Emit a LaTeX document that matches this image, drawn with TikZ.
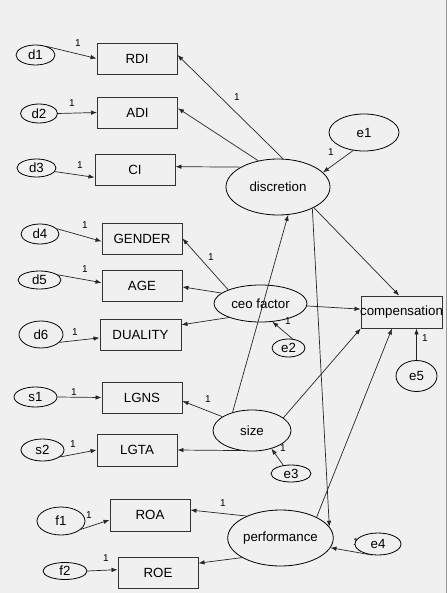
\documentclass[tikz,border=0pt]{standalone}
\usepackage{fontspec}
\setmainfont{Liberation Sans}
\usetikzlibrary{shapes.geometric,arrows.meta}
\definecolor{bgc}{HTML}{F0F0F0}
\newcommand\mainfnt{\fontsize{13.3}{15}\selectfont}
\newcommand\onefnt{\fontsize{10}{11}\selectfont}
\tikzset{
  box/.style={draw=black!80, line width=0.95pt, fill=bgc, rectangle, minimum width=80pt, minimum height=31pt, inner sep=0pt, font=\mainfnt},
  lat/.style={draw=black, line width=0.8pt, fill=bgc, ellipse, inner sep=0pt, font=\mainfnt},
  arr/.style={-{Latex[length=6pt,width=4.5pt]}, line width=0.7pt, draw=black!85},
  one/.style={font=\onefnt, inner sep=0pt}
}
\begin{document}
\begin{tikzpicture}[x=1pt,y=-1pt]
\fill[bgc] (0,0) rectangle (447,593);
\useasboundingbox (0,0) rectangle (447,593);
\fill[black!40] (445.5,0) rectangle (447,593);
% label hidden partly by e4
\node[one] (l19) at (356,542) {1};
% observed variables
\node[box] (RDI) at (137,58.5) {RDI};
\node[box] (ADI) at (137.5,112.5) {ADI};
\node[box] (CI) at (135,169.5) {CI};
\node[box] (GENDER) at (142,238.5) {GENDER};
\node[box] (AGE) at (142,285.5) {AGE};
\node[box,minimum width=81pt] (DUALITY) at (140.5,335) {DUALITY};
\node[box] (LGNS) at (142,397.5) {LGNS};
\node[box,minimum height=32pt] (LGTA) at (137,450) {LGTA};
\node[box,minimum height=32pt] (ROA) at (150,515) {ROA};
\node[box] (ROE) at (158,572.5) {ROE};
\node[box,minimum width=81pt,minimum height=32pt,inner xsep=-2pt] (comp) at (401.5,312) {compensation};
% latent / error variables
\node[lat,minimum width=39pt,minimum height=20pt] (d1) at (35.5,55) {d1};
\node[lat,minimum width=37pt,minimum height=19pt] (d2) at (39,113.5) {d2};
\node[lat,minimum width=39pt,minimum height=18pt] (d3) at (36.5,168) {d3};
\node[lat,minimum width=38pt,minimum height=20pt] (d4) at (40,234) {d4};
\node[lat,minimum width=43pt,minimum height=18pt] (d5) at (39.5,280) {d5};
\node[lat,minimum width=44pt,minimum height=27pt] (d6) at (41,334.5) {d6};
\node[lat,minimum width=43pt,minimum height=20pt] (s1) at (35.5,397) {s1};
\node[lat,minimum width=43pt,minimum height=22pt] (s2) at (42.5,450) {s2};
\node[lat,minimum width=48pt,minimum height=28pt] (f1) at (61,521) {f1};
\node[lat,minimum width=44pt,minimum height=17pt] (f2) at (65,571) {f2};
\node[lat,minimum width=70pt,minimum height=37pt] (e1) at (364,132.5) {e1};
\node[lat,minimum width=104pt,minimum height=56pt] (disc) at (278,187) {discretion};
\node[lat,minimum width=93pt,minimum height=37pt] (ceo) at (260.5,303.5) {ceo factor};
\node[lat,minimum width=33pt,minimum height=18pt] (e2) at (288.5,348) {e2};
\node[lat,minimum width=41pt,minimum height=31pt] (e5) at (416.5,376) {e5};
\node[lat,minimum width=78pt,minimum height=41pt] (size) at (252,430.5) {size};
\node[lat,minimum width=40pt,minimum height=17pt] (e3) at (291,473.5) {e3};
\node[lat,minimum width=105pt,minimum height=56pt] (perf) at (280.5,538) {performance};
\node[lat,minimum width=46pt,minimum height=22pt] (e4) at (378,544) {e4};
% error arrows to indicators
\draw[arr] (d1.37) -- (RDI.180);
\draw[arr] (d2.east) -- (ADI.west);
\draw[arr] (d3.-11) -- (CI.191);
\draw[arr] (d4.18) -- (GENDER.184);
\draw[arr] (d5.16) -- (AGE.176);
\draw[arr] (d6.-23) -- (DUALITY.184.5);
\draw[arr] (s1.east) -- (LGNS.west);
\draw[arr] (s2.-22) -- (LGTA.west);
\draw[arr] (f1.-23) -- (ROA.187);
\draw[arr] (f2.east) -- (ROE.176);
% discretion
\draw[arr] (disc.80) -- (RDI.5);
\draw[arr] (disc.127) -- (ADI.6);
\draw[arr] (disc.152) -- (CI.4);
\draw[arr] (e1.-121) -- (disc.18);
\draw[arr] (size.137) -- (disc.-70);
\draw[arr] (disc.-30) -- (comp.98);
\draw[arr] (disc.-32) -- (perf.13);
% ceo factor
\draw[arr] (ceo.157) -- (GENDER.east);
\draw[arr] (ceo.165) -- (AGE.-2);
\draw[arr] (ceo.204) -- (DUALITY.14);
\draw[arr] (e2.66) -- (ceo.-57);
\draw[arr] (ceo.-3) -- (comp.176);
% size
\draw[arr] (size.155) -- (LGNS.-5);
\draw[arr] (size.241) -- (LGTA.east);
\draw[arr] (e3.133) -- (size.-43);
\draw[arr] (size.22) -- (comp.202);
% performance
\draw[arr] (perf.147) -- (ROA.7);
\draw[arr] (perf.207) -- (ROE.13);
\draw[arr] (e4.241) -- (perf.-11);
\draw[arr] (perf.30) -- (comp.240);
\draw[arr] (e5.north) -- (e5.north |- comp.south);
% labels
\node[one] (l1) at (78,43) {1};
\node[one] (l2) at (72,103) {1};
\node[one] (l3) at (80,165) {1};
\node[one] (l4) at (85,225) {1};
\node[one] (l5) at (85,269) {1};
\node[one] (l6) at (75,332) {1};
\node[one] (l7) at (74,392) {1};
\node[one] (l8) at (73,444) {1};
\node[one] (l9) at (89,515) {1};
\node[one] (l10) at (106,558) {1};
\node[one] (l11) at (237,97) {1};
\node[one] (l12) at (331,152) {1};
\node[one] (l13) at (211,257) {1};
\node[one] (l14) at (288,321) {1};
\node[one] (l15) at (425,338) {1};
\node[one] (l16) at (208,399) {1};
\node[one] (l17) at (283,448) {1};
\node[one] (l18) at (223,503) {1};
\end{tikzpicture}
\end{document}
